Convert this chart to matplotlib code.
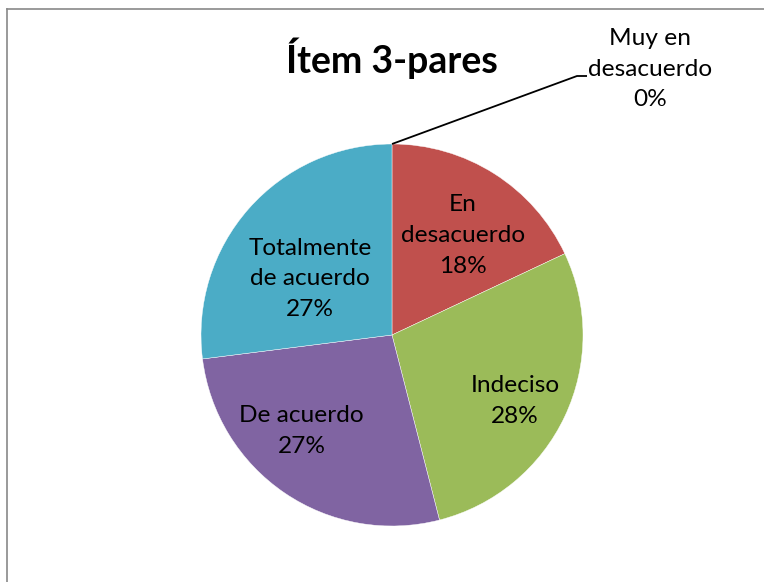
import numpy as np
import matplotlib.pyplot as plt
from matplotlib.lines import Line2D

# Data (percent of responses)
CATEGORIES = ["Muy en\ndesacuerdo", "En\ndesacuerdo", "Indeciso",
              "De acuerdo", "Totalmente\nde acuerdo"]
PERCENTS = [0, 18, 28, 27, 27]
TITLE = "Ítem 3-pares"

COLORS = ["#4F81BD", "#C0504D", "#9BBB59", "#8064A2", "#4BACC6"]

# label placement: (radius fraction, angle tweak in degrees) per slice
LABEL_POS = [None, (0.64, -3), (0.73, -3), (0.69, -9), (0.52, 7)]

W, H = 764, 582
CX, CY, R = 392, 335, 191   # pie centre / radius in pixels (from top)

plt.rcParams["font.family"] = ["Lato", "DejaVu Sans"]
LABEL_FS = 17.6
LINESP = 1.57

fig = plt.figure(figsize=(W / 100, H / 100), dpi=100)
half = 1.25 * R
ax = fig.add_axes([(CX - half) / W, (H - CY - half) / H, 2 * half / W, 2 * half / H])

wedges, _ = ax.pie(PERCENTS, colors=COLORS, startangle=90, counterclock=False,
                   wedgeprops=dict(edgecolor="white", linewidth=0.3))
ax.set_xlim(-1.25, 1.25)
ax.set_ylim(-1.25, 1.25)
ax.set_aspect("equal")
ax.axis("off")

for w, cat, pct, pos in zip(wedges, CATEGORIES, PERCENTS, LABEL_POS):
    label = f"{cat}\n{pct}%"
    if pos is None:
        # zero slice: label outside with a leader line
        ang = np.deg2rad((w.theta1 + w.theta2) / 2)
        px, py = np.cos(ang), np.sin(ang)
        lx, ly = (650 - CX) / R, (CY - 69) / R
        ty = (CY - 76) / R
        ax.plot([px, (577 - CX) / R, (587 - CX) / R], [py, ty, ty],
                color="black", lw=1.3, clip_on=False, solid_capstyle="butt")
        ax.text(lx, ly, label, ha="center", va="center", fontsize=LABEL_FS,
                linespacing=LINESP, clip_on=False)
        continue
    frac, tweak = pos
    ang = np.deg2rad((w.theta1 + w.theta2) / 2 + tweak)
    ax.text(frac * np.cos(ang), frac * np.sin(ang), label, ha="center",
            va="center", fontsize=LABEL_FS, linespacing=LINESP)

fig.text(392 / W, 1 - 58 / H, TITLE, ha="center", va="center",
         fontsize=27, fontweight="bold")

# chart area border (only left and top visible in the crop)
fx, fy = 6.5 / W, 1 - 8.5 / H
fig.add_artist(Line2D([fx, fx], [0, fy], color="#898989", lw=1.2))
fig.add_artist(Line2D([fx, 1], [fy, fy], color="#898989", lw=1.2))

fig.savefig("out.png", dpi=100)
